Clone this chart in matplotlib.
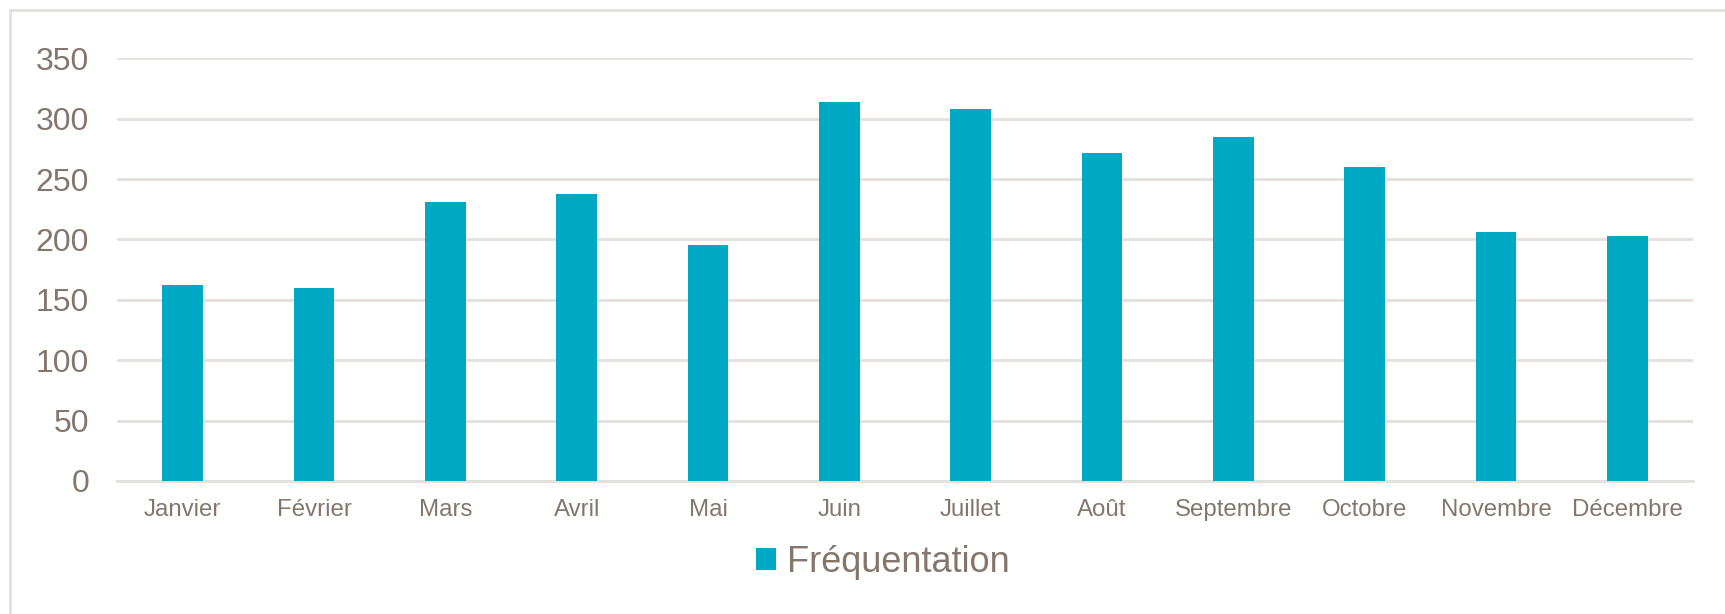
import matplotlib
matplotlib.use("Agg")
import matplotlib.pyplot as plt
from matplotlib.lines import Line2D

months = ["Janvier", "Février", "Mars", "Avril", "Mai", "Juin", "Juillet",
          "Août", "Septembre", "Octobre", "Novembre", "Décembre"]
frequentation = [162, 160, 231, 238, 195, 314, 308, 272, 285, 260, 206, 203]
yticks = [0, 50, 100, 150, 200, 250, 300, 350]
series_name = "Fréquentation"

BAR = "#00A9C3"
TXT = "#85766C"
GRID = "#E3DFDD"

plt.rcParams["font.family"] = ["Liberation Sans", "DejaVu Sans"]

W, H = 1725, 614
fig = plt.figure(figsize=(W / 100, H / 100), dpi=100)
ax = fig.add_axes([117 / W, 1 - 481 / H, (1693 - 117) / W, (481 - 58.3) / H])

x = list(range(len(months)))
ax.bar(x, frequentation, width=0.31, color=BAR, label=series_name, zorder=3)
ax.set_xlim(-0.5, len(months) - 0.5)
ax.set_ylim(0, 350)
ax.set_yticks(yticks)
ax.set_yticklabels([str(v) for v in yticks], fontsize=23, color=TXT)
ax.set_xticks(x)
ax.set_xticklabels(months, fontsize=17.3, color=TXT)
ax.tick_params(axis="both", length=0)
ax.tick_params(axis="y", pad=20)
ax.tick_params(axis="x", pad=13)
ax.grid(axis="y", color=GRID, linewidth=2, zorder=0)
for s in ["top", "right", "left"]:
    ax.spines[s].set_visible(False)
ax.spines["bottom"].set_color(GRID)
ax.spines["bottom"].set_linewidth(2)

leg = fig.legend(loc="center", bbox_to_anchor=(0.512, 1 - 562 / H), frameon=False,
                 fontsize=26, handlelength=0.55, handleheight=0.55, handletextpad=0.3)
for t in leg.get_texts():
    t.set_color(TXT)

# outer chart frame (top and left edges visible)
fig.add_artist(Line2D([10 / W, 1.0], [1 - 10 / H, 1 - 10 / H], color=GRID, linewidth=2,
                      transform=fig.transFigure))
fig.add_artist(Line2D([10 / W, 10 / W], [0, 1 - 10 / H], color=GRID, linewidth=2,
                      transform=fig.transFigure))

fig.savefig("out.png", dpi=100)
